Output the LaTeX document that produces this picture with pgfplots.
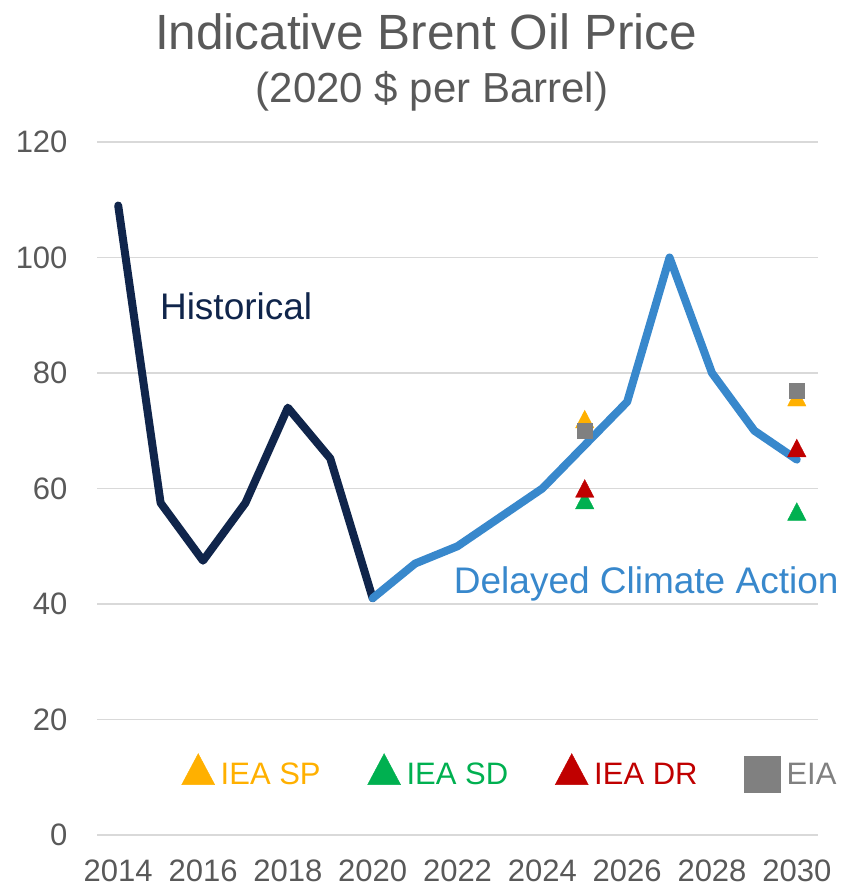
\documentclass[border=0pt]{standalone}
\usepackage{fontspec}
\setmainfont{Liberation Sans}
\usepackage{pgfplots}
\pgfplotsset{compat=1.18}
\definecolor{txtgray}{RGB}{89,89,89}
\definecolor{histnavy}{RGB}{16,37,75}
\definecolor{dcablue}{RGB}{56,136,204}
\definecolor{sporange}{RGB}{255,176,0}
\definecolor{sdgreen}{RGB}{0,176,80}
\definecolor{drred}{RGB}{192,0,0}
\definecolor{eiagray}{RGB}{128,128,128}
\definecolor{gridgray}{RGB}{217,217,217}
\pgfplotsset{singlemark/.style={legend image code/.code={\draw[##1] plot coordinates {(0bp,0bp)};}}}
\begin{document}
\begin{tikzpicture}
\path[use as bounding box] (0,0) rectangle (858bp,889bp);
\node[anchor=base, text=txtgray, font=\fontsize{49.5bp}{56bp}\selectfont] at (426bp,839bp) {Indicative Brent Oil Price};
\node[anchor=base, text=txtgray, font=\fontsize{42bp}{48bp}\selectfont] at (432bp,786bp) {(2020 \$ per Barrel)};
\begin{axis}[
 at={(97bp,54bp)}, anchor=south west,
 scale only axis, width=721bp, height=693bp,
 xmin=2013.5, xmax=2030.5, ymin=0, ymax=120,
 xtick={2014,2016,...,2030}, ytick={0,20,...,120},
 axis line style={draw=none}, major tick length=0pt,
 ymajorgrids, major grid style={gridgray, line width=1.8bp},
 /pgf/number format/assume math mode=true,
 /pgf/number format/1000 sep={},
 tick label style={text=txtgray, font=\fontsize{31bp}{37bp}\selectfont},
 yticklabel style={xshift=-26bp},
 xticklabel style={yshift=-21bp},
 clip=false,
 legend columns=4,
 legend style={draw=none, fill=none, at={(0.573,0.0895)}, anchor=center,
   font=\fontsize{31bp}{37bp}\selectfont,
   /tikz/every even column/.append style={column sep=45bp},
   /tikz/every odd column/.append style={column sep=4bp}},
]
\addlegendimage{only marks, mark=triangle*, mark size=20.7bp, sporange, mark options={xscale=0.92}, singlemark}
\addlegendentry{\textcolor{sporange}{IEA SP}}
\addlegendimage{only marks, mark=triangle*, mark size=20.7bp, sdgreen, mark options={xscale=0.92}, singlemark}
\addlegendentry{\textcolor{sdgreen}{IEA SD}}
\addlegendimage{only marks, mark=triangle*, mark size=20.7bp, drred, mark options={xscale=0.92}, singlemark}
\addlegendentry{\textcolor{drred}{IEA DR}}
\addlegendimage{only marks, mark=square*, mark size=18bp, eiagray, singlemark}
\addlegendentry{\textcolor{eiagray}{EIA}}

\addplot[histnavy, line width=8bp, line cap=round, line join=round, forget plot]
 coordinates {(2014,109)(2015,57.5)(2016,47.5)(2017,57.5)(2018,74)(2019,65.2)(2020,41)};
\addplot[dcablue, line width=8bp, line cap=round, line join=round, forget plot]
 coordinates {(2020,41)(2021,47)(2022,50)(2023,55)(2024,60)(2025,67.5)(2026,75)(2027,100)(2028,80)(2029,70)(2030,65)};

\addplot[only marks, mark=triangle*, mark size=11.8bp, sporange, mark options={xscale=0.9, yshift=-2.9bp}, forget plot]
 coordinates {(2025,72)(2030,75.8)};
\addplot[only marks, mark=triangle*, mark size=11.8bp, sdgreen, mark options={xscale=0.9, yshift=-2.9bp}, forget plot]
 coordinates {(2025,58)(2030,56)};
\addplot[only marks, mark=triangle*, mark size=11.8bp, drred, mark options={xscale=0.9, yshift=-2.9bp}, forget plot]
 coordinates {(2025,60)(2030,67)};
\addplot[only marks, mark=square*, mark size=7.5bp, eiagray, forget plot]
 coordinates {(2025,70)(2030,77)};

\node[anchor=base, text=histnavy, font=\fontsize{37bp}{44bp}\selectfont] at (axis cs:2016.78,89.2) {Historical};
\node[anchor=base, text=dcablue, font=\fontsize{37bp}{44bp}\selectfont] at (axis cs:2026.45,41.9) {Delayed Climate Action};
\end{axis}
\end{tikzpicture}
\end{document}
